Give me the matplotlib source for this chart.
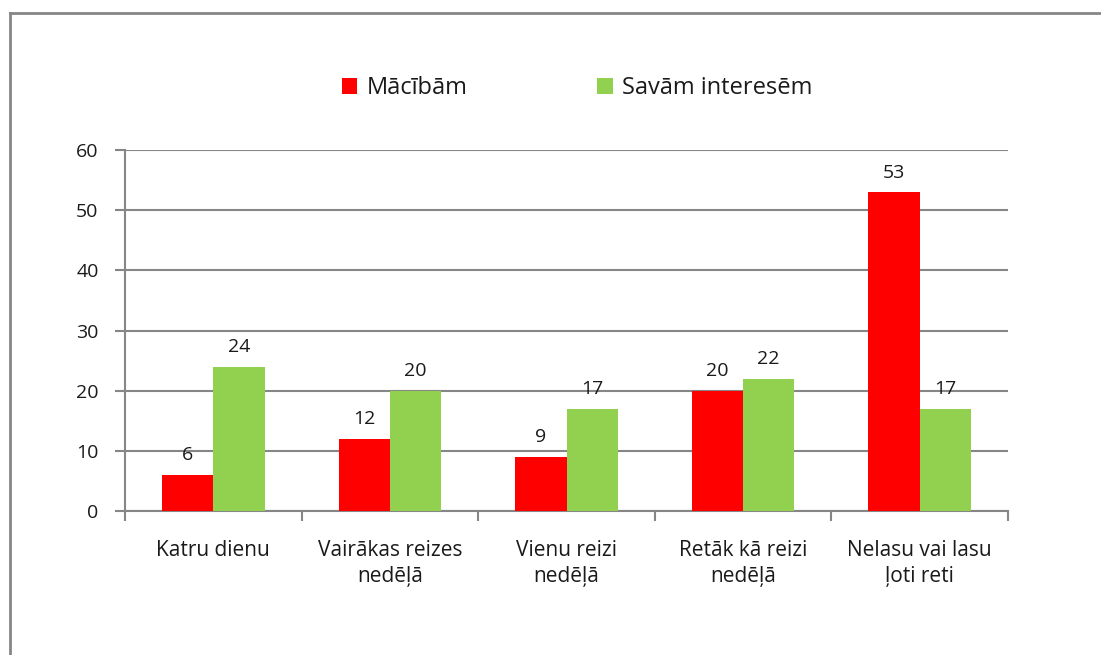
import matplotlib
matplotlib.use("Agg")
import matplotlib.pyplot as plt
import numpy as np
from matplotlib.lines import Line2D

categories = ["Katru dienu", "Vairākas reizes\nnedēļā", "Vienu reizi\nnedēļā",
              "Retāk kā reizi\nnedēļā", "Nelasu vai lasu\nļoti reti"]
macibam = [6, 12, 9, 20, 53]
interesem = [24, 20, 17, 22, 17]
series_names = ["Mācībām", "Savām interesēm"]
yticks = [0, 10, 20, 30, 40, 50, 60]

plt.rcParams['font.family'] = ['Open Sans', 'DejaVu Sans']
W, H = 1101, 655
fig = plt.figure(figsize=(W/100, H/100), dpi=100)
ax = fig.add_axes([125/W, 1-511/H, (1008-125)/W, (511-150)/H])

gray = "#868686"
txt = "#1a1a1a"
x = np.arange(len(categories))
bw = 0.29
b1 = ax.bar(x - bw/2, macibam, bw, color="#ff0000", label=series_names[0], zorder=3)
b2 = ax.bar(x + bw/2, interesem, bw, color="#92d050", label=series_names[1], zorder=3)
for bars in (b1, b2):
    for r in bars:
        ax.annotate(f"{int(r.get_height())}", (r.get_x()+r.get_width()/2, r.get_height()),
                    xytext=(0, 7.5), textcoords="offset points", ha="center", va="bottom",
                    fontsize=14, color=txt)

ax.set_xlim(-0.5, len(categories)-0.5)
ax.set_ylim(0, 60)
ax.set_yticks(yticks)
ax.yaxis.grid(True, color=gray, linewidth=1.5, zorder=0)
ax.set_axisbelow(True)
for s in ("top", "right"):
    ax.spines[s].set_visible(False)
for s in ("left", "bottom"):
    ax.spines[s].set_color(gray)
    ax.spines[s].set_linewidth(1.5)
ax.tick_params(axis="y", length=7, width=1.5, color=gray, pad=12, labelsize=14, labelcolor=txt)
ax.set_xticks(x)
ax.set_xticklabels(categories, fontsize=15, color=txt, linespacing=1.3)
ax.tick_params(axis="x", which="major", length=0, pad=21)
ax.set_xticks(np.arange(-0.5, len(categories), 1), minor=True)
ax.tick_params(axis="x", which="minor", length=7, width=1.5, color=gray)

leg = fig.legend(handles=[b1, b2], labels=series_names, loc="center", bbox_to_anchor=(577/W, 1-88/H),
           ncol=2, frameon=False, fontsize=17, handlelength=0.65, handleheight=0.65,
           columnspacing=5.5, handletextpad=0.4)
for t in leg.get_texts():
    t.set_color(txt)

fig.add_artist(Line2D([10/W, 10/W], [0, 1-13/H], transform=fig.transFigure, color=gray, linewidth=2))
fig.add_artist(Line2D([10/W, 1], [1-13/H, 1-13/H], transform=fig.transFigure, color=gray, linewidth=2))

fig.savefig("out.png", dpi=100)
